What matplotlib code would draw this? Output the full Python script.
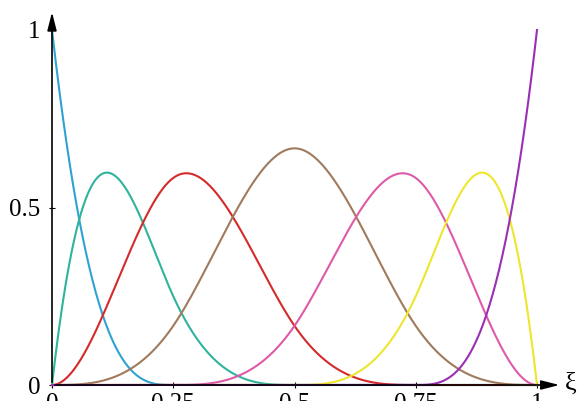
import numpy as np
import matplotlib
matplotlib.use("Agg")
import matplotlib.pyplot as plt

plt.rcParams["font.family"] = ["Liberation Serif", "DejaVu Serif"]

# knot vector and degree (interior knots at the tick marks)
knots = [0, 0, 0, 0, 0.25, 0.5, 0.75, 1, 1, 1, 1]
degree = 3
colors = ["#2ea3d2", "#2fb39c", "#d42a2a", "#a07a5c", "#de5aa8", "#eee62e", "#9a2fb4"]

xticks = [0, 0.25, 0.5, 0.75, 1]
xticklabels = ["0", "0.25", "0.5", "0.75", "1"]
yticks = [0, 0.5, 1]
yticklabels = ["0", "0.5", "1"]


def basis(i, p, t, x):
    if p == 0:
        right = (x < t[i + 1]) | ((t[i + 1] == t[-1]) & (x == t[-1]))
        return ((x >= t[i]) & right & (t[i] < t[i + 1])).astype(float)
    out = np.zeros_like(x)
    if t[i + p] > t[i]:
        out += (x - t[i]) / (t[i + p] - t[i]) * basis(i, p - 1, t, x)
    if t[i + p + 1] > t[i + 1]:
        out += (t[i + p + 1] - x) / (t[i + p + 1] - t[i + 1]) * basis(i + 1, p - 1, t, x)
    return out


xs = np.linspace(0, 1, 600)
n_basis = len(knots) - degree - 1

fig = plt.figure(figsize=(5.82, 4.01), dpi=100)
ax = fig.add_axes([52 / 582, 16 / 401, 485 / 582, 355 / 401])

for i in range(n_basis):
    ax.plot(xs, basis(i, degree, knots, xs), color=colors[i], lw=1.5, clip_on=False, zorder=3)

ax.set_xlim(0, 1)
ax.set_ylim(0, 1)
for s in ax.spines.values():
    s.set_visible(False)

# axes with arrows
ax.annotate("", xy=(1.052, 0), xytext=(0, 0), annotation_clip=False,
            arrowprops=dict(arrowstyle="-|>,head_length=1.1,head_width=0.28", color="black", lw=1.2))
ax.annotate("", xy=(0, 1.058), xytext=(0, 0), annotation_clip=False,
            arrowprops=dict(arrowstyle="-|>,head_length=1.1,head_width=0.28", color="black", lw=1.2))
ax.text(1.057, 0.005, "ξ", fontsize=19, ha="left", va="center")

ax.set_xticks(xticks)
ax.set_xticklabels(xticklabels, fontsize=18)
ax.set_yticks(yticks)
ax.set_yticklabels(yticklabels, fontsize=18)
ax.tick_params(axis="x", direction="inout", length=5, width=0.8, pad=3)
ax.tick_params(axis="y", direction="inout", length=5, width=0.8, pad=6)

fig.savefig("out.png", dpi=100)
